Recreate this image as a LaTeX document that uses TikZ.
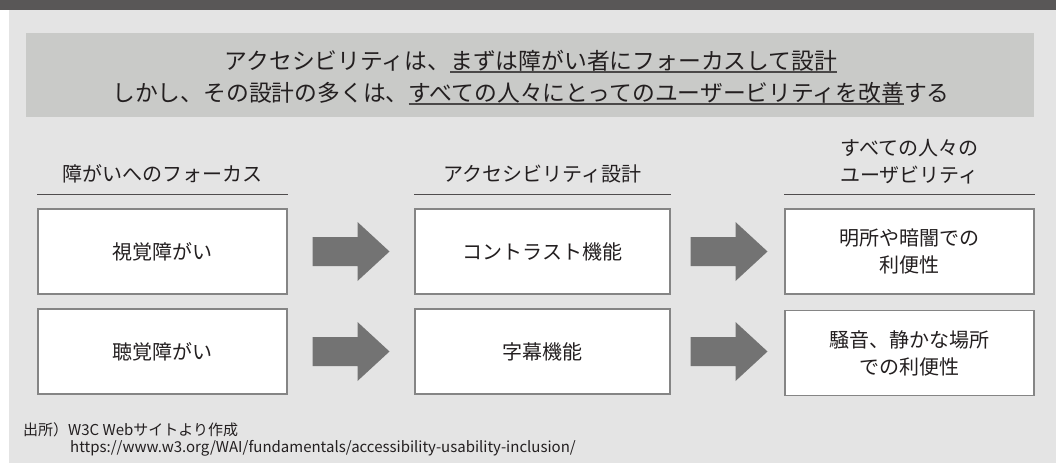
\documentclass[tikz,border=0pt]{standalone}
\usepackage{fontspec}
\setmainfont{Noto Sans CJK JP}
\usetikzlibrary{calc}
\definecolor{barcol}{HTML}{595757}
\definecolor{bgcol}{HTML}{E4E4E4}
\definecolor{bannercol}{HTML}{C9CAC8}
\definecolor{ink}{HTML}{231F20}
\definecolor{framecol}{HTML}{858585}
\definecolor{arrowcol}{HTML}{737373}
\definecolor{ulcol}{HTML}{4A4848}
\newcommand\myul[1]{\setbox0\hbox{#1}\rlap{\textcolor{ulcol}{\rule[-3.2pt]{\wd0}{1.9pt}}}\box0}
\begin{document}
\begin{tikzpicture}[x=1pt,y=-1pt,
  every node/.style={text=ink,inner sep=0pt},
  box/.style={draw=framecol,line width=1.5pt,fill=white,minimum width=249pt,minimum height=85pt,align=center,font=\fontsize{20}{27}\selectfont},
  midbox/.style={box,minimum width=255pt},
  head/.style={align=center,font=\fontsize{20}{27}\selectfont},
  headrule/.style={draw=ink!80,line width=0.8pt},
  foot/.style={anchor=west,font=\fontsize{15}{18}\selectfont},
  bigarrow/.pic={\fill[arrowcol] (-38.5,-14.5) -- (6.5,-14.5) -- (6.5,-29.5) -- (38.5,0) -- (6.5,29.5) -- (6.5,14.5) -- (-38.5,14.5) -- cycle;}
]
\useasboundingbox (0,0) rectangle (1056,463);
% backgrounds
\fill[white] (0,0) rectangle (1056,463);
\fill[bgcol] (9,10) rectangle (1056,463);
\fill[barcol] (0,0) rectangle (1056,10);
\fill[bannercol] (26,33) rectangle (1034,117);
% banner text
\node[align=center,font=\fontsize{22.8}{32}\selectfont] (banner) at (531,77.5)
  {アクセシビリティは、\myul{まずは障がい者にフォーカスして設計}\\
   しかし、その設計の多くは、\myul{すべての人々にとってのユーザービリティを改善}する};
% boxes
\node[box] (v1) at (162.5,251.5) {視覚障がい};
\node[midbox] (c1) at (542.5,251.5) {コントラスト機能};
\node[box] (u1) at (909.5,251.5) {明所や暗闇での\\利便性};
\node[box] (v2) at (162.5,351.5) {聴覚障がい};
\node[midbox] (c2) at (542.5,351.5) {字幕機能};
\node[box] (u2) at (909.5,353) {騒音、静かな場所\\での利便性};
% headers
\node[head] (h1) at (162.5,174) {障がいへのフォーカス};
\node[head] (h2) at (542.5,174) {アクセシビリティ設計};
\node[head] (h3) at (909.5,161.5) {すべての人々の\\ユーザビリティ};
\draw[headrule] ([yshift=14pt]v1.north west) -- ([yshift=14pt]v1.north east);
\draw[headrule] ([yshift=14pt]c1.north west) -- ([yshift=14pt]c1.north east);
\draw[headrule] ([yshift=14pt]u1.north west) -- ([yshift=14pt]u1.north east);
% arrows
\pic at ($(v1.east)!0.5!(c1.west)$) {bigarrow};
\pic at ($(c1.east)!0.5!(u1.west)+(1.5,0)$) {bigarrow};
\pic at ($(v2.east)!0.5!(c2.west)$) {bigarrow};
\pic at ($(c2.east)!0.5!(u2.west |- c2.east)+(1.5,0)$) {bigarrow};
% footer
\node[foot] (src) at (23,430) {出所）W3C Webサイトより作成};
\node[foot] (url) at (70,448) {https://www.w3.org/WAI/fundamentals/accessibility-usability-inclusion/};
\end{tikzpicture}
\end{document}
